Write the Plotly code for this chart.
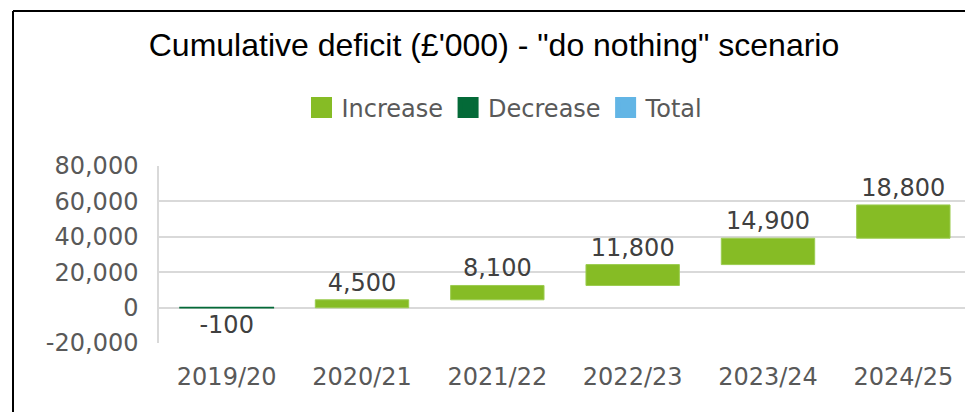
import plotly.graph_objects as go

categories = ["2019/20", "2020/21", "2021/22", "2022/23", "2023/24", "2024/25"]
changes = [-100, 4500, 8100, 11800, 14900, 18800]
title_text = "Cumulative deficit (£'000) - \"do nothing\" scenario"
y_ticks = [-20000, 0, 20000, 40000, 60000, 80000]
legend_names = ["Increase", "Decrease", "Total"]

inc_color = "#86BC25"
dec_color = "#046A38"
tot_color = "#62B5E5"
legend_colors = [inc_color, dec_color, tot_color]

# running bases
bases = []
run = 0
for v in changes:
    bases.append(run)
    run += v

inc_x = [c for c, v in zip(categories, changes) if v >= 0]
inc_y = [v for v in changes if v >= 0]
inc_b = [b for b, v in zip(bases, changes) if v >= 0]
dec_x = [c for c, v in zip(categories, changes) if v < 0]
dec_y = [v for v in changes if v < 0]
dec_b = [b for b, v in zip(bases, changes) if v < 0]

# page body has an 8px margin, so the figure is drawn 8px in from the corner
W, H = 965, 404
ml, mr, mt, mb = 151, 2, 158, 69
pw, ph = W - ml - mr, H - mt - mb

label_font = dict(family="DejaVu Sans", size=24, color="#404040")
tick_font = dict(family="DejaVu Sans", size=24, color="#595959")

fig = go.Figure()
fig.add_trace(go.Bar(
    name="Increase", x=inc_x, y=inc_y, base=inc_b,
    marker=dict(color=inc_color, line=dict(color="#9ccc50", width=1)),
    text=[f"{v:,}" for v in inc_y], textposition="outside",
    textfont=label_font, constraintext="none", cliponaxis=False,
    showlegend=False,
))
fig.add_trace(go.Bar(
    name="Decrease", x=dec_x, y=dec_y, base=dec_b,
    marker=dict(color=dec_color, line=dict(color=dec_color, width=1.5)),
    text=[f"{v:,}" for v in dec_y], textposition="outside",
    textfont=label_font, constraintext="none", cliponaxis=False,
    showlegend=False,
))
for name, col in zip(legend_names, legend_colors):
    fig.add_trace(go.Scatter(
        name=name, x=[None], y=[None], mode="markers",
        marker=dict(symbol="square", size=16, color=col,
                    line=dict(color=col, width=5)),
        showlegend=True,
    ))

def px_x(p):
    return (p - ml) / pw

def px_y(p):
    return (H - mb - p) / ph

shapes = [
    dict(type="line", xref="paper", yref="paper",
         x0=px_x(5), x1=px_x(5), y0=px_y(3), y1=px_y(H + 5),
         line=dict(color="black", width=2)),
    dict(type="line", xref="paper", yref="paper",
         x0=px_x(5), x1=px_x(W + 5), y0=px_y(3), y1=px_y(3),
         line=dict(color="black", width=2)),
]

fig.update_layout(
    width=W, height=H,
    margin=dict(l=ml, r=mr, t=mt, b=mb, autoexpand=False),
    paper_bgcolor="white", plot_bgcolor="white",
    barmode="overlay", bargap=0.31,
    title=dict(text=title_text, x=486 / W, xanchor="center",
               y=1 - 37 / H, yanchor="middle",
               font=dict(family="Liberation Sans", size=32, color="black")),
    legend=dict(orientation="h", xref="container", yref="container",
                x=497 / W, xanchor="center", y=1 - 100 / H, yanchor="middle",
                font=tick_font, itemwidth=30, traceorder="normal"),
    shapes=shapes,
    showlegend=True,
)
fig.update_xaxes(
    type="category", categoryorder="array", categoryarray=categories,
    showgrid=False, showline=False, ticks="", automargin=False,
    tickfont=tick_font, ticklabelstandoff=17,
)
fig.update_yaxes(
    range=[-20000, 80000], tickvals=y_ticks,
    ticktext=[f"{v:,}" for v in y_ticks], automargin=False,
    showgrid=True, gridcolor="#d9d9d9", gridwidth=1.5,
    zeroline=True, zerolinecolor="#d9d9d9", zerolinewidth=1.5,
    showline=True, linecolor="#d9d9d9", linewidth=1.5,
    ticks="", ticklabelstandoff=14,
    tickfont=tick_font,
)

fig.write_html("out.html")
